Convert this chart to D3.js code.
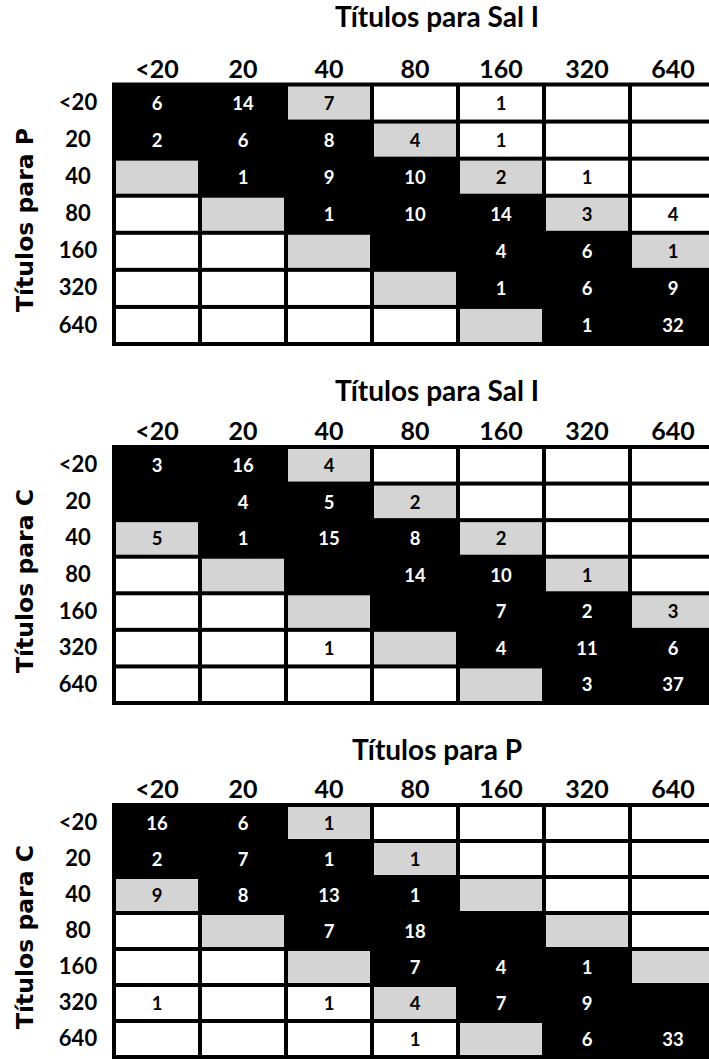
<!DOCTYPE html>
<html>
<head>
<meta charset="utf-8">
<title>Títulos</title>
<style>
  body { margin: 0; background: #fff; }
  .title { font-family: Lato, "Open Sans", sans-serif; font-weight: bold; font-size: 28px; }
  .ylab { font-family: "DejaVu Sans", sans-serif; font-weight: bold; font-size: 23.5px; }
  .val { font-family: Lato, "Open Sans", sans-serif; font-weight: bold; font-size: 18.5px; }
</style>
</head>
<body>
<script src="https://cdnjs.cloudflare.com/ajax/libs/d3/7.8.5/d3.min.js"></script>
<script>
// dilution categories, same on both axes
var dilutions = ["<20", "20", "40", "80", "160", "320", "640"];

var colTitles = ["Títulos para Sal I", "Títulos para Sal I", "Títulos para P"];
var rowTitles = ["Títulos para P", "Títulos para C", "Títulos para C"];

// counts, rows = row titre, cols = column titre (null = empty cell)
var countsPvsSal = [
  [6, 14, 7, null, 1, null, null],
  [2, 6, 8, 4, 1, null, null],
  [null, 1, 9, 10, 2, 1, null],
  [null, null, 1, 10, 14, 3, 4],
  [null, null, null, null, 4, 6, 1],
  [null, null, null, null, 1, 6, 9],
  [null, null, null, null, null, 1, 32]
];
var countsCvsSal = [
  [3, 16, 4, null, null, null, null],
  [null, 4, 5, 2, null, null, null],
  [5, 1, 15, 8, 2, null, null],
  [null, null, null, 14, 10, 1, null],
  [null, null, null, null, 7, 2, 3],
  [null, null, 1, null, 4, 11, 6],
  [null, null, null, null, null, 3, 37]
];
var countsCvsP = [
  [16, 6, 1, null, null, null, null],
  [2, 7, 1, 1, null, null, null],
  [9, 8, 13, 1, null, null, null],
  [null, null, 7, 18, null, null, null],
  [null, null, null, 7, 4, 1, null],
  [1, null, 1, 4, 7, 9, null],
  [null, null, null, 1, null, 6, 33]
];
var matrices = [countsPvsSal, countsCvsSal, countsCvsP];

// layout of the three panels
var panels = [
  {top: 84.5, bottom: 344, titleY: 27, labY: 220},
  {top: 447, bottom: 703, titleY: 401, labY: 581},
  {top: 805, bottom: 1057, titleY: 760, labY: 937}
];

var width = 709, height = 1059;
var gridLeft = 114, gridRight = 716;

var svg = d3.select("body").append("svg")
    .attr("width", width)
    .attr("height", height);

var x = d3.scaleBand().domain(dilutions).range([gridLeft, gridRight]);

// agreement band: same dilution +-1 black, +-2 grey, else white
function band(i, j) {
  var d = Math.abs(i - j);
  if (d <= 1) return "black";
  if (d == 2) return "grey";
  return "white";
}
var fills = {black: "#000", grey: "#d4d4d4", white: "#fff"};

panels.forEach(function (p, k) {
  var y = d3.scaleBand().domain(dilutions).range([p.top, p.bottom]);
  var g = svg.append("g");

  // title
  g.append("text").attr("class", "title")
      .attr("x", 437).attr("y", p.titleY)
      .attr("text-anchor", "middle")
      .text(colTitles[k]);

  // rotated row title
  g.append("text").attr("class", "ylab")
      .attr("transform", "translate(33," + p.labY + ") rotate(-90)")
      .attr("text-anchor", "middle")
      .text(rowTitles[k]);

  // column headers
  var top = g.append("g")
      .attr("transform", "translate(0," + p.top + ")")
      .call(d3.axisTop(x).tickSize(0).tickPadding(7));
  top.select(".domain").remove();
  top.attr("font-family", "Lato, 'Open Sans', sans-serif")
     .attr("font-size", 25).attr("font-weight", "bold");
  top.selectAll("text").attr("fill", "#000");

  // row headers
  var left = g.append("g")
      .attr("transform", "translate(78,0)")
      .call(d3.axisLeft(y).tickSize(0).tickPadding(0));
  left.select(".domain").remove();
  left.attr("font-family", "Lato, 'Open Sans', sans-serif")
      .attr("font-size", 22).attr("font-weight", "bold");
  left.selectAll("text").attr("text-anchor", "middle").attr("x", 0).attr("fill", "#000");

  // black background = borders
  g.append("rect")
      .attr("x", gridLeft - 2).attr("y", p.top - 2)
      .attr("width", gridRight - gridLeft + 4)
      .attr("height", p.bottom - p.top + 4)
      .attr("fill", "#000");

  var cells = [];
  matrices[k].forEach(function (row, i) {
    row.forEach(function (v, j) {
      cells.push({r: dilutions[i], c: dilutions[j], v: v, b: band(i, j)});
    });
  });

  g.selectAll(".cell").data(cells.filter(function (d) { return d.b != "black"; }))
    .enter().append("rect")
      .attr("class", "cell")
      .attr("x", function (d) { return x(d.c) + 2; })
      .attr("y", function (d) { return y(d.r) + 2; })
      .attr("width", x.bandwidth() - 4)
      .attr("height", y.bandwidth() - 4)
      .attr("fill", function (d) { return fills[d.b]; });

  g.selectAll(".val").data(cells.filter(function (d) { return d.v != null; }))
    .enter().append("text")
      .attr("class", "val")
      .attr("x", function (d) { return x(d.c) + x.bandwidth() / 2; })
      .attr("y", function (d) { return y(d.r) + y.bandwidth() / 2; })
      .attr("dy", "0.36em")
      .attr("text-anchor", "middle")
      .attr("fill", function (d) { return d.b == "black" ? "#fff" : "#000"; })
      .text(function (d) { return d.v; });
});
</script>
</body>
</html>
